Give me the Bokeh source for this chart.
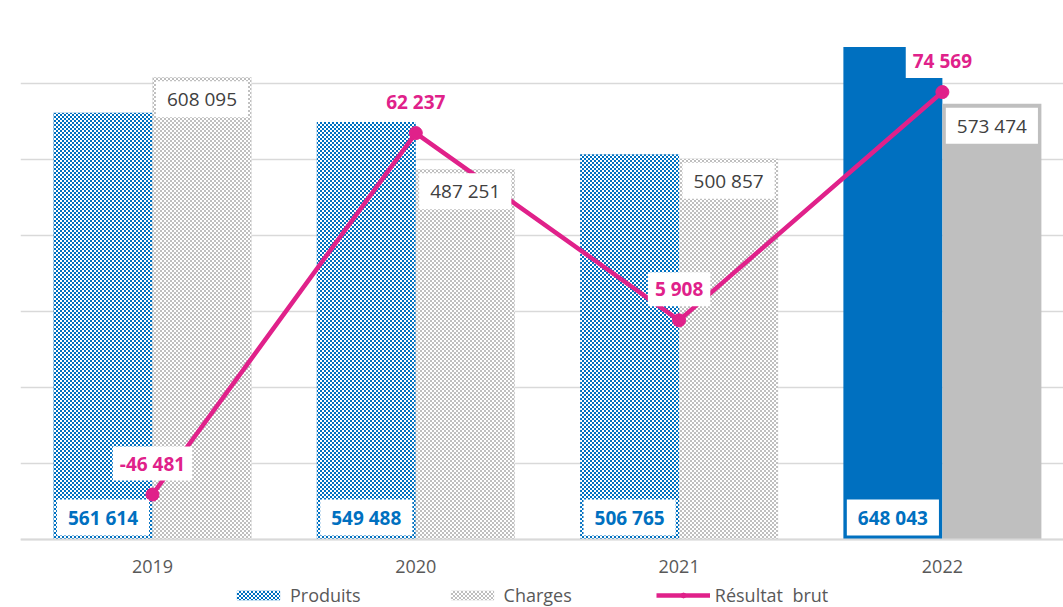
import base64
from bokeh.plotting import figure
from bokeh.models import (Range1d, FixedTicker, ColumnDataSource, Legend, LegendItem,
                          ImageURLTexture)
from bokeh.transform import dodge
from bokeh.core.properties import value
from bokeh.embed import file_html
from bokeh.resources import INLINE

# ---- data ----
years = ["2019", "2020", "2021", "2022"]
produits = [561614, 549488, 506765, 648043]
charges = [608095, 487251, 500857, 573474]
resultat = [-46481, 62237, 5908, 74569]
patterns = ["checker", "checker", "checker", " "]
grid_ticks = [0, 100000, 200000, 300000, 400000, 500000, 600000, 700000]


def fmt(v):
    return f"{v:,}".replace(",", " ")


BLUE = "#0070C0"
GRAY = "#BFBFBF"
PINK = "#E0218A"
TXT = "#595959"
FONT = "Open Sans"

src = ColumnDataSource(dict(
    x=list(range(len(years))),
    produits=produits,
    charges=charges,
    resultat=resultat,
    pat=patterns,
    p_lab=[fmt(v) for v in produits],
    c_lab=[fmt(v) for v in charges],
    r_lab=[fmt(v) for v in resultat],
    zero=[0] * len(years),
))

# frame spans the whole height; 0 sits 68 px above the bottom edge
BOTTOM_FRAC = 68 / 532
p = figure(width=1063, height=607,
           x_range=Range1d(-0.5013, 3.460),
           y_range=Range1d(-700000 * BOTTOM_FRAC, 700000),
           output_backend="svg", toolbar_location=None,
           min_border_left=20, min_border_right=0, min_border_top=7, min_border_bottom=0)
p.extra_y_ranges = {"res": Range1d(-60000 - 160000 * BOTTOM_FRAC, 100000)}
p.outline_line_color = None
p.background_fill_color = "white"
p.border_fill_color = "white"

svg_tile = ("<svg xmlns='http://www.w3.org/2000/svg' width='4' height='4' "
            "shape-rendering='crispEdges'>"
            "<rect x='0' y='0' width='2' height='2' fill='white'/>"
            "<rect x='2' y='2' width='2' height='2' fill='white'/></svg>")
checker = ImageURLTexture(
    url="data:image/svg+xml;base64," + base64.b64encode(svg_tile.encode()).decode())

W = 0.376
bp = p.vbar(x=dodge("x", -W / 2, range=p.x_range), top="produits", width=W, source=src,
            fill_color=BLUE, line_color=None, hatch_pattern="pat",
            hatch_extra={"checker": checker}, hatch_color="white")
bc = p.vbar(x=dodge("x", W / 2, range=p.x_range), top="charges", width=W, source=src,
            fill_color=GRAY, line_color=None, hatch_pattern="pat",
            hatch_extra={"checker": checker}, hatch_color="white")

lr = p.line("x", "resultat", source=src, y_range_name="res", line_color=PINK, line_width=4.5)
cr = p.scatter("x", "resultat", source=src, y_range_name="res", size=13,
               fill_color=PINK, line_color=PINK)

# labels
p.text(x=dodge("x", -W / 2, range=p.x_range), y="zero", text="p_lab", source=src,
       text_font=value(FONT), text_font_size="19px", text_font_style="bold",
       text_color=BLUE, text_align="center", text_baseline="middle", y_offset=-22,
       background_fill_color="white",
       padding=dict(left=11, right=11, top=5, bottom=5))
p.text(x=dodge("x", W / 2, range=p.x_range), y="charges", text="c_lab", source=src,
       text_font=value(FONT), text_font_size="19px",
       text_color="#404040", text_align="center", text_baseline="middle", y_offset=22,
       background_fill_color="white",
       padding=dict(left=11, right=11, top=5, bottom=5))
p.text(x="x", y="resultat", text="r_lab", source=src, y_range_name="res",
       text_font=value(FONT), text_font_size="19px", text_font_style="bold",
       text_color=PINK, text_align="center", text_baseline="middle", y_offset=-31,
       background_fill_color="white",
       padding=dict(left=7, right=7, top=4, bottom=4))

# axes & grid
p.yaxis.visible = False
p.yaxis.ticker = FixedTicker(ticks=grid_ticks)
p.ygrid.ticker = FixedTicker(ticks=grid_ticks)
p.ygrid.grid_line_color = "#D9D9D9"
p.ygrid.grid_line_width = 1.5
p.xgrid.visible = False

xa = p.xaxis[0]
xa.fixed_location = 0
xa.ticker = FixedTicker(ticks=list(range(len(years))))
xa.major_label_overrides = {i: y for i, y in enumerate(years)}
xa.axis_line_color = "#D9D9D9"
xa.axis_line_width = 2
xa.major_tick_line_color = None
xa.minor_tick_line_color = None
xa.major_label_standoff = 14
xa.major_label_text_font = FONT
xa.major_label_text_font_size = "18px"
xa.major_label_text_color = TXT

legend = Legend(items=[
    LegendItem(label="Produits", renderers=[bp]),
    LegendItem(label="Charges", renderers=[bc]),
    LegendItem(label="Résultat  brut", renderers=[lr, cr]),
], orientation="horizontal", location=(211, 0),
    label_text_font=FONT, label_text_font_size="18px", label_text_color=TXT,
    glyph_width=54, glyph_height=12, label_standoff=5, spacing=84,
    padding=0, margin=0, border_line_color=None, background_fill_color=None,
    background_fill_alpha=0)
p.add_layout(legend)

open("out.html", "w").write(file_html(p, INLINE))
